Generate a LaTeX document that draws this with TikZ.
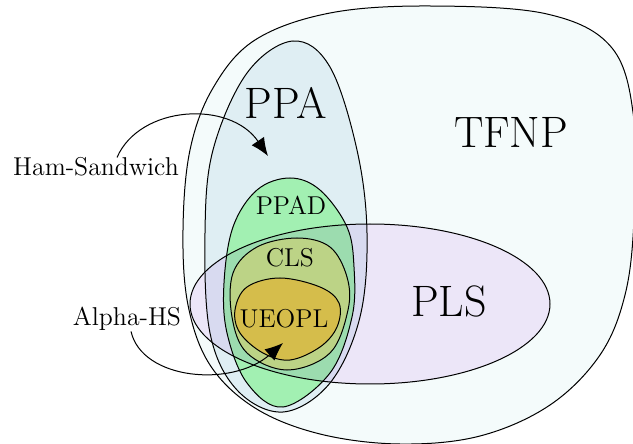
\documentclass[tikz,border=0pt]{standalone}
\usetikzlibrary{arrows.meta}

\definecolor{tfnpcol}{RGB}{244,251,251}
\definecolor{ppacol}{RGB}{223,238,243}
\definecolor{ppadcol}{RGB}{162,240,178}
\definecolor{clscol}{RGB}{195,231,136}
\definecolor{ueoplcol}{RGB}{220,206,76}
\definecolor{plscol}{RGB}{247,234,252}

\tikzset{
  setline/.style={draw=black, line width=0.5pt},
  biglbl/.style={anchor=base, inner sep=0pt, font=\fontsize{22}{26}\selectfont},
  smalllbl/.style={anchor=base, inner sep=0pt, font=\fontsize{12.9}{15}\selectfont},
  hsarrow/.style={line width=0.5pt, -{Latex[length=9pt,width=7.5pt]}}
}

\begin{document}
\begin{tikzpicture}[x=0.5pt, y=-0.5pt]
    %%%%% START %%%%%
    \useasboundingbox (0,0) rectangle (633,444);

    % TFNP
    \filldraw[setline, fill=tfnpcol] plot[smooth cycle, tension=0.6] coordinates {
      (430,6) (547,14) (612,48) (634,120) (634,220) (625,295) (600,355)
      (550,405) (480,436) (400,444) (320,434) (255,408) (210,365)
      (188,305) (183,230) (190,150) (213,88) (255,40) (330,13)};

    % PPA
    \filldraw[setline, fill=ppacol] plot[smooth cycle, tension=0.6] coordinates {
      (293,41) (330,67) (357,150) (367,233) (360,317) (330,383) (283,412)
      (237,390) (210,333) (205,233) (213,150) (247,73)};

    % PPAD
    \filldraw[setline, fill=ppadcol] plot[smooth cycle, tension=0.6] coordinates {
      (290,178) (320,190) (347,227) (354,267) (352,317) (330,373) (283,407)
      (247,383) (227,333) (224,283) (233,227) (257,190)};

    % CLS
    \filldraw[setline, fill=clscol] plot[smooth cycle, tension=0.6] coordinates {
      (297,238) (330,247) (347,277) (348,310) (330,353) (287,370)
      (247,353) (232,317) (233,273) (257,247)};

    % UEOPL
    \filldraw[setline, fill=ueoplcol] plot[smooth cycle, tension=0.6] coordinates {
      (280,278) (320,287) (339,303) (337,327) (320,347) (290,360)
      (263,353) (240,333) (235,310) (247,287)};

    % PLS
    \begin{scope}[blend mode=multiply]
      \filldraw[setline, fill=plscol] (370,304) ellipse [x radius=180, y radius=80];
    \end{scope}

    % labels
    \node[biglbl] (tfnp) at (511,148) {TFNP};
    \node[biglbl] (ppa) at (286,119) {PPA};
    \node[biglbl] (pls) at (449,316) {PLS};
    \node[smalllbl] (ppad) at (291,215) {PPAD};
    \node[smalllbl] (cls) at (290,267) {CLS};
    \node[smalllbl] (ueopl) at (284,328) {UEOPL};
    \node[smalllbl] (hamlbl) at (96,176) {Ham-Sandwich};
    \node[smalllbl] (alphalbl) at (127,326) {Alpha-HS};

    % reductions
    \coordinate (ppatip) at (268,156);
    \coordinate (ueopltip) at (283,343);
    \draw[hsarrow] ([xshift=10.5pt]hamlbl.north) .. controls (140,105) and (230,100) .. (ppatip);
    \draw[hsarrow] ([xshift=2pt]alphalbl.south) .. controls (142,380) and (232,388) .. (ueopltip);

    %%%%% END %%%%%
\end{tikzpicture}
\end{document}
